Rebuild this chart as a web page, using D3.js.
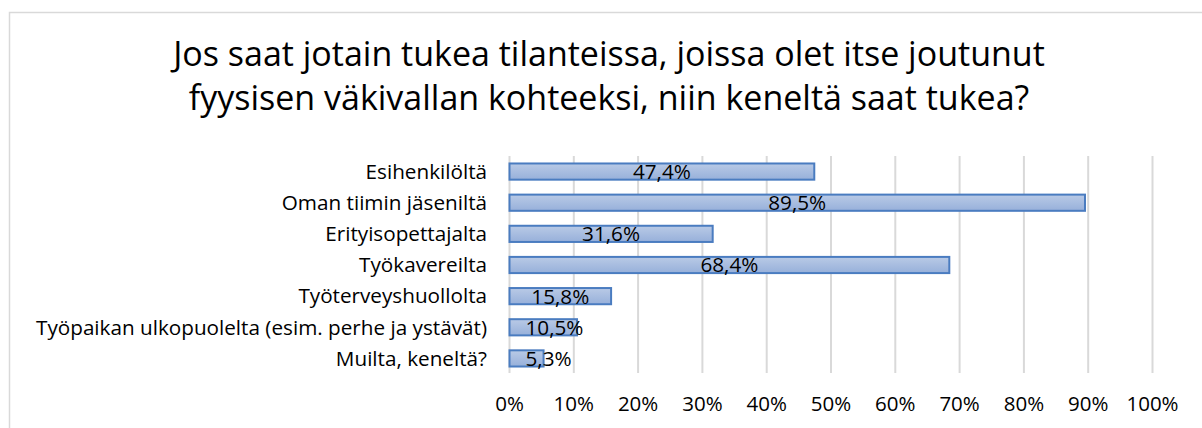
<!DOCTYPE html>
<html>
<head>
<meta charset="utf-8">
<script src="https://cdn.jsdelivr.net/npm/d3@7"></script>
<style>
  body { margin: 0; background: #fff; }
  text { font-family: "Open Sans", sans-serif; fill: #000; }
</style>
</head>
<body>
<div id="chart"></div>
<script>
// data
const categories = [
  "Esihenkilöltä",
  "Oman tiimin jäseniltä",
  "Erityisopettajalta",
  "Työkavereilta",
  "Työterveyshuollolta",
  "Työpaikan ulkopuolelta (esim. perhe ja ystävät)",
  "Muilta, keneltä?"
];
const values = [0.474, 0.895, 0.316, 0.684, 0.158, 0.105, 0.053];
const ticks = [0, 0.1, 0.2, 0.3, 0.4, 0.5, 0.6, 0.7, 0.8, 0.9, 1.0];
const titleLines = [
  "Jos saat jotain tukea tilanteissa, joissa olet itse joutunut",
  "fyysisen väkivallan kohteeksi, niin keneltä saat tukea?"
];

const width = 1202, height = 428;
const margin = { top: 156, right: 49.5, bottom: 54, left: 509.5 };

const svg = d3.select("#chart")
  .append("svg")
  .attr("width", width)
  .attr("height", height);

const defs = svg.append("defs");
const grad = defs.append("linearGradient")
  .attr("id", "barGrad")
  .attr("x1", 0).attr("y1", 0).attr("x2", 0).attr("y2", 1);
grad.append("stop").attr("offset", "0%").attr("stop-color", "#b9cae6");
grad.append("stop").attr("offset", "100%").attr("stop-color", "#97b0da");

// chart frame
svg.append("rect")
  .attr("x", 9.5).attr("y", 12.5)
  .attr("width", width + 10).attr("height", height + 10)
  .attr("fill", "none")
  .attr("stroke", "#d9d9d9")
  .attr("stroke-width", 1.5);

const x = d3.scaleLinear().domain([0, 1]).range([margin.left, width - margin.right]);
const y = d3.scaleBand().domain(categories)
  .range([margin.top, height - margin.bottom])
  .paddingInner(0.48).paddingOuter(0.24);

// title
svg.append("g").selectAll("text")
  .data(titleLines)
  .join("text")
  .attr("x", 609)
  .attr("y", (d, i) => 66 + i * 44)
  .attr("text-anchor", "middle")
  .attr("font-size", 34)
  .text(d => d);

// gridlines
svg.append("g")
  .selectAll("line")
  .data(ticks)
  .join("line")
  .attr("x1", d => x(d)).attr("x2", d => x(d))
  .attr("y1", margin.top).attr("y2", 373)
  .attr("stroke", "#d9d9d9")
  .attr("stroke-width", 2);

// x axis labels
svg.append("g")
  .selectAll("text")
  .data(ticks)
  .join("text")
  .attr("x", d => x(d))
  .attr("y", 411)
  .attr("text-anchor", "middle")
  .attr("font-size", 20.5)
  .text(d => d3.format(".0%")(d));

// category labels
svg.append("g")
  .selectAll("text")
  .data(categories)
  .join("text")
  .attr("x", 487)
  .attr("y", d => y(d) + y.bandwidth() / 2)
  .attr("dy", "0.35em")
  .attr("text-anchor", "end")
  .attr("font-size", 20.7)
  .text(d => d);

// bars
svg.append("g")
  .selectAll("rect")
  .data(values)
  .join("rect")
  .attr("x", x(0))
  .attr("y", (d, i) => y(categories[i]))
  .attr("width", d => x(d) - x(0))
  .attr("height", y.bandwidth())
  .attr("fill", "url(#barGrad)")
  .attr("stroke", "#4a7cc0")
  .attr("stroke-width", 2);

// value labels: centred on the bar, but kept from sliding left past the axis
const fmt = d => d3.format(".1f")(d * 100).replace(".", ",") + "%";
svg.append("g")
  .selectAll("text")
  .data(values)
  .join("text")
  .attr("y", (d, i) => y(categories[i]) + y.bandwidth() / 2)
  .attr("dy", "0.36em")
  .attr("text-anchor", "middle")
  .attr("font-size", 20.7)
  .text(fmt)
  .attr("x", function(d) {
    const half = this.getComputedTextLength() / 2;
    return Math.max((x(0) + x(d)) / 2, x(0) + 16 + half);
  });
</script>
</body>
</html>
